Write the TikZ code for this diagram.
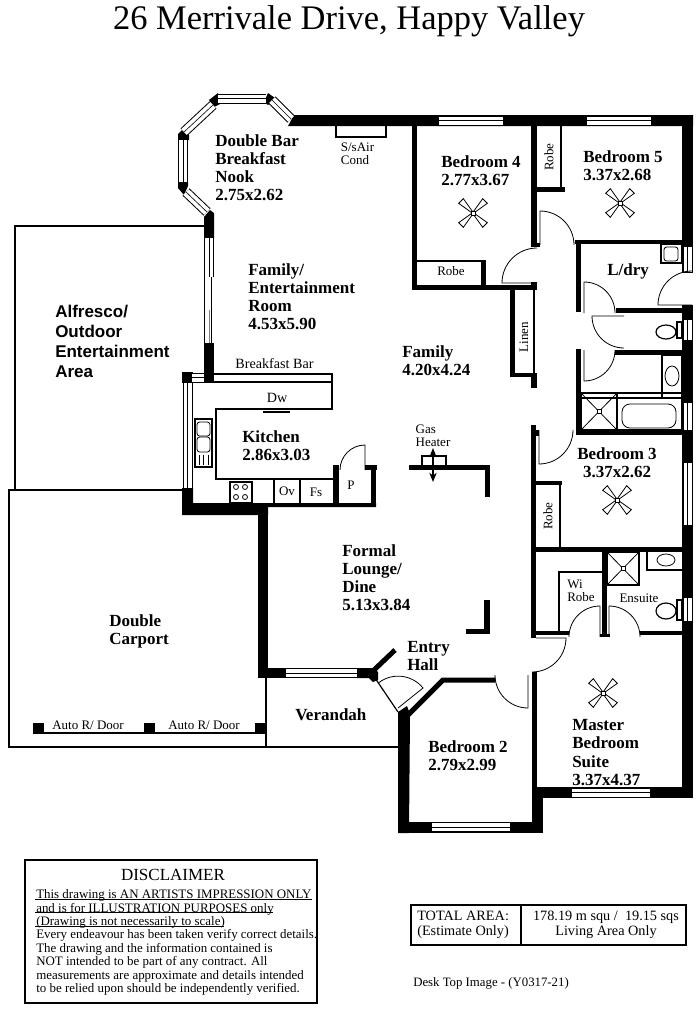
\documentclass[tikz,border=0pt]{standalone}
\usepackage{fontspec}
\setmainfont{Liberation Serif}
\newfontfamily\alfrescofont{Liberation Sans}
\usetikzlibrary{arrows.meta}
\tikzset{
    wall/.style={fill=black},
    sidewall/.style={draw=black,line width=3.75pt},
    window/.style={draw=black,line width=.75pt,double=white,double distance=6pt,
                   postaction={draw=black,line width=.45pt,double=none}},
    door/.style={draw=black,line width=.6pt},
    fitting/.style={draw=black,line width=.9pt},
    carport/.style={draw=black,line width=1.1pt},
    room/.style={font=\fontsize{12.75}{13.6}\selectfont\bfseries,align=left,anchor=west,inner sep=0pt},
    outdoor/.style={font=\alfrescofont\fontsize{12.75}{15}\selectfont\bfseries,align=left,anchor=west,inner sep=0pt},
    label/.style={font=\fontsize{9.75}{9.75}\selectfont,align=left,inner sep=0pt},
    notes/.style={font=\fontsize{9.7}{10.05}\selectfont,align=left,anchor=west,inner sep=0pt},
    fan/.pic={
        \foreach \a in {0,90,180,270}
            \draw[door,fill=white,rotate=\a+45] (2,-.8) -- (17,-3.3) -- (17,3.3) -- (2,.8) -- cycle;
        \draw[door,fill=white] (-2,-2) rectangle (2,2);
    }
}
\begin{document}
\begin{tikzpicture}[x=.75pt,y=-.75pt]
    \useasboundingbox (0,0) rectangle (700,1018);
    \node[font=\fontsize{25.85}{26}\selectfont] (title) at (349,21) {26 Merrivale Drive, Happy Valley};

    % outside areas
    \draw[carport] (204,226) -- (15,226) -- (15,490);                 %Alfresco
    \draw[carport] (183,490) -- (9,490) -- (9,747) -- (399,747);      %Carport
    \draw[carport] (266,678) -- (266,747);                            %Verandah
    \draw[carport] (44,733) -- (255,733);
    \fill[wall] (33,723) rectangle (44,734);
    \fill[wall] (144,723) rectangle (155,734);
    \fill[wall] (255,723) rectangle (266,734);

    % outer walls
    \fill[wall] (294,115) -- (693,115) -- (693,126) -- (288,126) -- cycle;
    \fill[wall] (682,115) rectangle (693,273);
    \fill[wall] (682,305) rectangle (693,798);
    \fill[wall] (532,787) rectangle (693,798);
    \fill[wall] (532,672) rectangle (537,798);
    \fill[wall] (532,798) rectangle (543,833);
    \fill[wall] (398,822) rectangle (543,833);
    \fill[wall] (398,712) -- (407,706) -- (410,714) -- (409,833) -- (398,833) -- cycle;
    \fill[wall] (258,507) rectangle (268,678);
    \fill[wall] (258,668) rectangle (286,678);
    \fill[wall] (357,668) -- (373,668) -- (378,672) -- (378,680) -- (373,682) -- (369,678) -- (357,678) -- cycle;
    \draw[sidewall] (374,670) -- (395,650);
    \fill[wall] (182,488) -- (193,488) -- (193,503) -- (376,503) -- (376,507) -- (268,507)
                -- (268,515) -- (182,515) -- cycle;              %Kitchen
    \fill[wall] (182,372) rectangle (193,383);
    \fill[wall] (204,343) rectangle (214,383);
    \fill[wall] (204,217) -- (210,210) -- (214,213) -- (214,238) -- (204,238) -- cycle;

    % nook corners
    \fill[wall] (218,93) -- (220,104) -- (214,107) -- (209,100) -- cycle;
    \fill[wall] (268,93) -- (275,98) -- (268,105) -- (264,102) -- cycle;
    \fill[wall] (183,129) -- (189,135) -- (189,140) -- (178,140) -- (178,134) -- cycle;
    \fill[wall] (178,182) -- (188,182) -- (188,186) -- (184,195) -- (178,188) -- cycle;

    % inner walls
    \fill[wall] (412,126) rectangle (417,290);                  %Bedroom 4
    \fill[wall] (412,285) rectangle (537,290);
    \fill[wall] (531,282) rectangle (537,290);
    \fill[wall] (481,260) rectangle (486,285);
    \fill[wall] (531,126) rectangle (537,247);                  %Bedroom 5
    \fill[wall] (537,243) rectangle (540,247);
    \fill[wall] (537,187) rectangle (565,192);
    \fill[wall] (575,240) rectangle (682,244);                  %L/dry
    \fill[wall] (576,240) rectangle (581,312);
    \fill[wall] (616,308) rectangle (682,313);
    \fill[wall] (615,350) rectangle (682,355);                  %Toilet
    \fill[wall] (576,349) rectangle (581,433);
    \fill[wall] (576,430) rectangle (682,435);
    \fill[wall] (510,290) rectangle (515,377);                  %Linen
    \fill[wall] (510,373) rectangle (537,377);
    \fill[wall] (531,373) rectangle (537,388);
    \fill[wall] (531,425) rectangle (536,638);                  %Hall
    \fill[wall] (536,430) rectangle (539,436);
    \fill[wall] (536,481) rectangle (562,485);                  %Bedroom 3
    \fill[wall] (536,547) rectangle (682,552);
    \fill[wall] (602,552) rectangle (607,637);                  %Ensuite
    \fill[wall] (600,634) rectangle (610,637);
    \fill[wall] (536,631) rectangle (569,635);
    \fill[wall] (640,631) rectangle (682,635);
    \fill[wall] (333,465) rectangle (339,503);                  %Pantry
    \fill[wall] (371,465) rectangle (376,503);
    \fill[wall] (365,465) rectangle (377,470);
    \fill[wall] (409,465) rectangle (490,470);                  %Gas heater
    \fill[wall] (485,465) rectangle (490,497);
    \fill[wall] (484,600) rectangle (490,634);                  %Lounge
    \fill[wall] (466,629) rectangle (490,634);
    \draw[sidewall] (495,680) -- (443,680) -- (407,716);        %Bedroom 2

    % windows
    \draw[window] (439,120.5) -- (503,120.5);
    \draw[window] (587,120.5) -- (651,120.5);
    \draw[window] (687.5,247) -- (687.5,272);
    \draw[window] (687.5,320) -- (687.5,340);
    \draw[window] (687.5,403) -- (687.5,430);
    \draw[window] (687.5,463) -- (687.5,525);
    \draw[window] (687.5,598) -- (687.5,621);
    \draw[window] (572,792.5) -- (650,792.5);
    \draw[window] (432,827) -- (510,827);
    \draw[window] (286,673) -- (357,673);
    \draw[window] (187.5,383) -- (187.5,488);
    \draw[window] (192,377.5) -- (204,377.5);
    \draw[window] (209,238) -- (209,277);
    \draw[window] (218,98.5) -- (266,98.5);
    \draw[window] (272,100) -- (291,119);
    \draw[window] (213,105) -- (184,132);
    \draw[window] (183,140) -- (183,182);
    \draw[window] (186,192) -- (207,212);

    % sliding door
    \draw[door] (204.5,277) -- (204.5,343);
    \draw[door] (211.5,277) -- (211.5,343);
    \draw[door,gray] (209,310) -- (209,343);

    % doors
    \draw[door] (537,283) -- (502,283) arc[start angle=180,end angle=270,radius=35];      %Bedroom 4
    \draw[door] (540,245) -- (540,211) arc[start angle=270,end angle=360,radius=34];      %Bedroom 5
    \draw[door] (539,430) -- (539,464) arc[start angle=90,end angle=0,radius=34];         %Bedroom 3
    \draw[door] (584,313) -- (584,282) arc[start angle=270,end angle=360,radius=31];      %L/dry
    \draw[door] (692,305) -- (658,305) arc[start angle=180,end angle=270,radius=34];      %outside
    \draw[door] (624,316) -- (592,316) arc[start angle=180,end angle=90,radius=32];       %Toilet
    \draw[door] (584,350) -- (584,381) arc[start angle=90,end angle=0,radius=31];         %Bath
    \draw[door] (600,637) -- (600,606) arc[start angle=270,end angle=180,radius=31];      %Wi Robe
    \draw[door] (609,637) -- (609,606) arc[start angle=270,end angle=360,radius=31];      %Ensuite
    \draw[door] (536,638) -- (566,638) arc[start angle=0,end angle=90,radius=34];         %Master
    \draw[door] (528,675) -- (528,708) arc[start angle=90,end angle=180,radius=33];       %Bedroom 2
    \draw[door] (365,470) -- (365,445) arc[start angle=270,end angle=180,radius=25];      %Pantry
    \draw[door] (398,708) -- (423,688) arc[start angle=321,end angle=233,radius=32];      %Entry
    \draw[fitting] (373,675) -- (398,712);

    % robes and fittings
    \draw[fitting] (417,261) -- (482,261);
    \draw[fitting] (561,126) -- (561,188);
    \draw[fitting] (534,290) -- (534,373);
    \draw[fitting] (560,485) -- (560,547);
    \draw[fitting] (602,572) -- (559,572) -- (559,631);
    \draw[fitting] (386,126) -- (386,137) -- (336,137) -- (336,126);    %Air cond
    \draw[fitting] (661,244) rectangle (682,263);                       %Laundry tub
    \draw[door,rounded corners=2pt] (664,247) rectangle (678,261);
    \draw[fitting,fill=white] (677,322) rectangle (682,338);            %Toilet
    \draw[fitting,fill=white] (666,332) ellipse [x radius=10,y radius=7];
    \draw[fitting] (662,355) rectangle (682,398);                       %Basin
    \draw[door] (672,376) ellipse [x radius=7,y radius=10];
    \draw[fitting] (581,398) -- (682,398);
    \draw[fitting] (617,393) rectangle (682,430);                       %Bath
    \draw[door,rounded corners=6pt] (622,404) rectangle (676,428);
    \draw[fitting] (581,393) rectangle (617,430);                       %Shower
    \draw[door] (581,393) -- (617,430) (617,393) -- (581,430);
    \draw[door,fill=white] (597,409.5) rectangle (601,413.5);
    \draw[fitting] (607,552) rectangle (639,585);                       %Ensuite
    \draw[door] (607,552) -- (639,585) (639,552) -- (607,585);
    \draw[door,fill=white] (621,566.5) rectangle (625,570.5);
    \draw[fitting] (647,552) -- (647,570) -- (682,570);
    \draw[door] (666,560) ellipse [x radius=9,y radius=6];
    \draw[fitting,fill=white] (677,600) rectangle (682,620);
    \draw[fitting,fill=white] (666,611) ellipse [x radius=10,y radius=8];

    % kitchen
    \draw[fitting] (214,374) -- (332,374) -- (332,409) -- (216,409) -- (216,479) -- (337,479);
    \draw[fitting,line width=1.3pt] (214,382) -- (332,382);
    \draw[fitting] (263,412) -- (290,412);
    \draw[fitting] (195,419) rectangle (212,467);                       %Sink
    \draw[door,rounded corners=2pt] (197,422) rectangle (210,436);
    \draw[door,rounded corners=2pt] (197,437) rectangle (210,452);
    \draw[door] (199,455) -- (199,465) (203.5,455) -- (203.5,465) (208,455) -- (208,465);
    \draw[fitting] (230,482) rectangle (252,503);                       %Cooktop
    \draw[door] (236,487) circle [radius=2.5] (245,487) circle [radius=2.5]
                (236,497) circle [radius=2.5] (245,497) circle [radius=2.5];
    \draw[fitting] (274,480) -- (274,503) (300,480) -- (300,503);

    % gas heater
    \draw[fitting] (422,465) -- (422,456) -- (446,456) -- (446,465);
    \draw[line width=.9pt,{Stealth[length=7pt,width=5.5pt]}-{Stealth[length=7pt,width=5.5pt]}] (433,448) -- (433,482);

    % fans
    \pic at (473,213) {fan};
    \pic at (620,203) {fan};
    \pic at (617,500) {fan};
    \pic at (603,693) {fan};

    % room labels
    \node[room] (nook) at (215,167.5)    {Double Bar\\Breakfast\\Nook\\2.75x2.62};
    \node[room] (entertainment) at (248,297) {Family/\\Entertainment\\Room\\4.53x5.90};
    \node[room] (family) at (402,361)    {Family\\4.20x4.24};
    \node[room] (bedfour) at (441,171)   {Bedroom 4\\2.77x3.67};
    \node[room] (bedfive) at (583,166)   {Bedroom 5\\3.37x2.68};
    \node[room] (laundry) at (607,271)   {L/dry};
    \node[room,align=center,anchor=center] (bedthree) at (617,462.5) {Bedroom 3\\3.37x2.62};
    \node[room] (kitchen) at (242,446)   {Kitchen\\2.86x3.03};
    \node[room] (lounge) at (342,578)    {Formal\\Lounge/\\Dine\\5.13x3.84};
    \node[room] (entry) at (407,656)     {Entry\\Hall};
    \node[room] (verandah) at (295,715)  {Verandah};
    \node[room] (bedtwo) at (428,756)    {Bedroom 2\\2.79x2.99};
    \node[room] (master) at (572,752.5)  {Master\\Bedroom\\Suite\\3.37x4.37};
    \node[room] (double) at (109,631)    {Double\\Carport};
    \node[outdoor] (alfresco) at (55,341) {Alfresco/\\Outdoor\\Entertainment\\Area};

    % small labels
    \node[label] (air) at (357.5,153.5)  {S/sAir\\Cond};
    \node[label,rotate=90] (robea) at (549,157) {Robe};
    \node[label] (robeb) at (451,271)    {Robe};
    \node[label,rotate=90] (linen) at (524,337) {Linen};
    \node[label,rotate=90] (robec) at (548,516) {Robe};
    \node[label] (wirobe) at (581,591)   {Wi\\Robe};
    \node[label] (ensuite) at (639,598)  {Ensuite};
    \node[label,font=\fontsize{10.6}{11}\selectfont] (bar) at (274.5,364) {Breakfast Bar};
    \node[label,font=\fontsize{10.6}{11}\selectfont] (dw) at (277,398) {Dw};
    \node[label] (ov) at (287,491)       {Ov};
    \node[label] (fs) at (316,492)       {Fs};
    \node[label] (pantry) at (351,485)   {P};
    \node[label] (heater) at (433,435.5) {Gas\\Heater};
    \node[label] (autoa) at (88,725)     {Auto R/ Door};
    \node[label] (autob) at (204,725)    {Auto R/ Door};

    % disclaimer
    \draw[carport] (25,860) rectangle (317,1003);
    \node[font=\fontsize{12.75}{13}\selectfont] (disclaimer) at (173,875) {DISCLAIMER};
    \node[notes] (terms) at (36,942.5) {This drawing is AN ARTISTS IMPRESSION ONLY\\
        and is for ILLUSTRATION PURPOSES only\\
        (Drawing is not necessarily to scale)\\
        Every endeavour has been taken verify correct details.\\
        The drawing and the information contained is\\
        NOT intended to be part of any contract.  All\\
        measurements are approximate and details intended\\
        to be relied upon should be independently verified.};
    \draw[door] (35,899) -- (312,899);
    \draw[door] (35,912) -- (273,912);
    \draw[door] (35,926) -- (224,926);

    % total area
    \draw[carport] (411,905) rectangle (686,945);
    \draw[carport] (521,905) -- (521,945);
    \node[notes,font=\fontsize{10.7}{11.2}\selectfont] (area) at (417,925) {TOTAL AREA:\\(Estimate Only)};
    \node[notes,align=center,anchor=center,font=\fontsize{10.7}{11.2}\selectfont] (living) at (606,925) {178.19 m squ /~~19.15 sqs\\Living Area Only};
    \node[notes,font=\fontsize{9.6}{10}\selectfont] (desktop) at (413,983) {Desk Top Image - (Y0317-21)};
\end{tikzpicture}
\end{document}
